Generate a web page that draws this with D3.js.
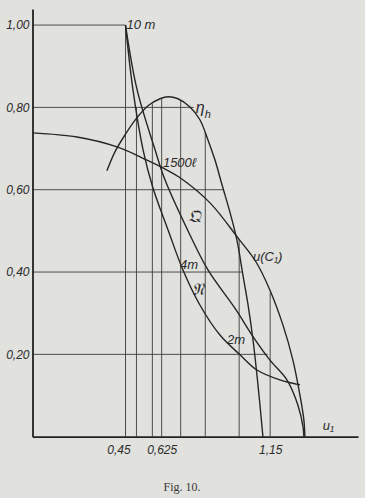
<!DOCTYPE html>
<html>
<head>
<meta charset="utf-8">
<script src="https://cdn.jsdelivr.net/npm/d3@7/dist/d3.min.js"></script>
<style>
	body { margin:0; background:#e1e1de; }
	svg { display:block; }
	.hand { font-family:"Liberation Sans", sans-serif; font-style:italic; fill:#2b2b2b; }
	.fig { font-family:"Liberation Serif", serif; fill:#3a3a3a; }
</style>
</head>
<body>
<svg id="chart" width="365" height="498"></svg>
<script>
// values (u1 along x, ratio along y)
var yTicks = [0.2, 0.4, 0.6, 0.8, 1.0];
var yTickLabels = ['0,20', '0,40', '0,60', '0,80', '1,00'];
var xTicks = [0.45, 0.625, 1.15];
var xTickLabels = ['0,45', '0,625', '1,15'];

// construction lines: horizontal ones end at hEnd, vertical ones reach up to vTop
var hEnd = [1.139, 1.0135, 0.922, 0.78, 0.45];
var vGridU = [0.45, 0.503, 0.58, 0.625, 0.717, 0.836, 1.0, 1.15];
var vTop = [1.0, 0.80, 0.81, 0.823, 0.818, 0.74, 0.48, 0.35];

// eta_h
var etaU = [0.360, 0.399, 0.4475, 0.501, 0.559, 0.617, 0.656, 0.704, 0.762, 0.810, 0.849, 0.883, 0.917, 0.955, 0.989, 1.018, 1.043, 1.067, 1.091, 1.115];
var etaV = [0.646, 0.692, 0.733, 0.772, 0.804, 0.821, 0.826, 0.821, 0.801, 0.770, 0.721, 0.672, 0.612, 0.546, 0.478, 0.393, 0.320, 0.235, 0.126, 0];

// u(C1)
var muU = [0, 0.215, 0.409, 0.554, 0.631, 0.714, 0.859, 0.994, 1.081, 1.149, 1.212, 1.260, 1.294, 1.313, 1.318];
var muV = [0.738, 0.728, 0.704, 0.672, 0.653, 0.629, 0.568, 0.483, 0.425, 0.356, 0.271, 0.186, 0.101, 0.041, 0];

// Q
var qU = [0.45, 0.506, 0.593, 0.641, 0.762, 0.849, 0.985, 1.062, 1.149, 1.231, 1.284, 1.309, 1.313];
var qV = [1.0, 0.843, 0.697, 0.624, 0.490, 0.405, 0.308, 0.247, 0.186, 0.138, 0.077, 0.024, 0];

// N
var nU = [0.45, 0.486, 0.535, 0.583, 0.656, 0.728, 0.810, 0.907, 1.004, 1.086, 1.197, 1.294];
var nV = [1.0, 0.843, 0.697, 0.604, 0.502, 0.405, 0.320, 0.247, 0.199, 0.162, 0.138, 0.126];

var svg = d3.select('#chart');

var x = d3.scaleLinear().domain([0, 1.575]).range([32.5, 358]);
var y = d3.scaleLinear().domain([0, 1.039]).range([436.7, 9]);

var zip = function (a, b) { return a.map(function (d, i) { return [d, b[i]]; }); };

// grid
var grid = svg.append('g').attr('stroke', '#3c3c3c').attr('stroke-width', 0.9);
grid.selectAll('line.h').data(yTicks).enter().append('line')
	.attr('class', 'h')
	.attr('x1', x(0)).attr('x2', function (d, i) { return x(hEnd[i]); })
	.attr('y1', function (d) { return y(d); }).attr('y2', function (d) { return y(d); });
grid.selectAll('line.v').data(vGridU).enter().append('line')
	.attr('class', 'v')
	.attr('x1', function (d) { return x(d); }).attr('x2', function (d) { return x(d); })
	.attr('y1', y(0)).attr('y2', function (d, i) { return y(vTop[i]); });

// curves
var line = d3.line()
	.x(function (d) { return x(d[0]); })
	.y(function (d) { return y(d[1]); })
	.curve(d3.curveCatmullRom.alpha(0.5));

var curves = [zip(etaU, etaV), zip(muU, muV), zip(qU, qV), zip(nU, nV)];
svg.append('g').selectAll('path').data(curves).enter().append('path')
	.attr('d', line)
	.attr('fill', 'none')
	.attr('stroke', '#262626')
	.attr('stroke-width', 1.4);

// axes
var yAxis = d3.axisLeft(y).tickValues(yTicks)
	.tickFormat(function (d, i) { return yTickLabels[i]; })
	.tickSize(0).tickSizeOuter(0).tickPadding(3);
var gy = svg.append('g').attr('transform', 'translate(' + x(0) + ',0)').call(yAxis);

var xAxis = d3.axisBottom(x).tickValues(xTicks)
	.tickFormat(function (d, i) { return xTickLabels[i]; })
	.tickSize(0).tickSizeOuter(0).tickPadding(9);
var gx = svg.append('g').attr('transform', 'translate(0,' + y(0) + ')').call(xAxis);

[gy, gx].forEach(function (g) {
	g.select('.domain').attr('stroke', '#222').attr('stroke-width', 1.8);
	g.selectAll('text').attr('class', 'hand').style('font-size', '12px').attr('font-family', null);
});
gx.selectAll('text').filter(function (d) { return d == 0.45; }).attr('dx', -7);

// curve labels
var notes = [
	{ t: '10 m', u: 0.455, v: 0.99, s: 13 },
	{ t: '1500\u2113', u: 0.631, v: 0.655, s: 13 },
	{ t: '\ud835\udd14', u: 0.750, v: 0.522, s: 17 },
	{ t: '4m', u: 0.714, v: 0.407, s: 13 },
	{ t: '\ud835\udd11', u: 0.772, v: 0.345, s: 17 },
	{ t: '2m', u: 0.941, v: 0.225, s: 13 },
	{ t: 'u(C\u2081)', u: 1.067, v: 0.427, s: 13 },
	{ t: 'u\u2081', u: 1.405, v: 0.016, s: 13 }
];
svg.append('g').selectAll('text').data(notes).enter().append('text')
	.attr('class', 'hand')
	.attr('x', function (d) { return x(d.u); })
	.attr('y', function (d) { return y(d.v); })
	.style('font-size', function (d) { return d.s + 'px'; })
	.text(function (d) { return d.t; });

var eta = svg.append('text').attr('class', 'hand')
	.attr('x', x(0.79)).attr('y', y(0.787)).style('font-size', '16px');
eta.append('tspan').text('\u03b7');
eta.append('tspan').attr('dy', 5).style('font-size', '11px').text('h');

svg.append('text').attr('class', 'fig')
	.attr('x', 182).attr('y', 491)
	.style('text-anchor', 'middle').style('font-size', '12px')
	.text('Fig. 10.');
</script>
</body>
</html>
